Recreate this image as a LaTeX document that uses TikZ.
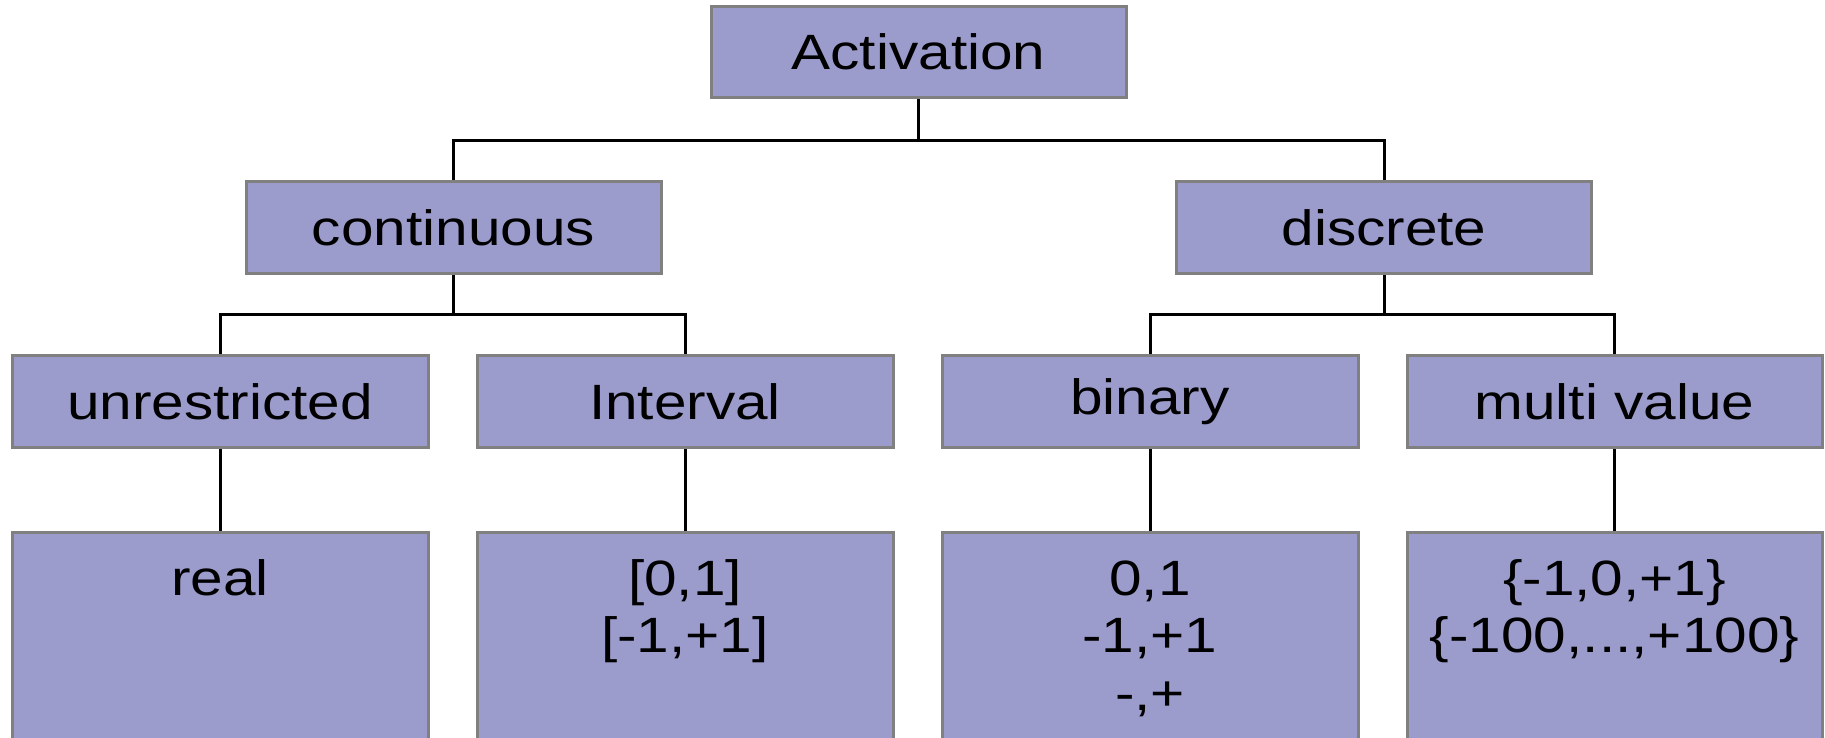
\documentclass[tikz,border=0pt]{standalone}
\usepackage{fontspec}
\setmainfont{Liberation Sans}[FakeStretch=1.18]
\usetikzlibrary{backgrounds}
\definecolor{boxfill}{RGB}{155,155,204}
\definecolor{boxline}{RGB}{128,128,128}
\newcommand{\leaflines}[1]{\begin{tabular}[t]{@{}c@{}}#1\end{tabular}}
\tikzset{
  box/.style={draw=boxline, fill=boxfill, line width=3pt, minimum width=415pt,
    minimum height=92pt, inner sep=0pt, text=black,
    font=\fontsize{49.6}{57.5}\selectfont},
  leafbox/.style={box, anchor=north, text height=35.5pt,
    text depth=170pt, inner ysep=27pt},
  conn/.style={draw=black, line width=3pt},
}
\begin{document}
\begin{tikzpicture}[x=1pt,y=-1pt]
\useasboundingbox (0,0) rectangle (1825,738);
\clip (0,0) rectangle (1825,738);
% boxes
\node[box, minimum height=91pt] (act) at (918.5,52) {Activation};
\node[box] (cont) at (453.5,227.5) {continuous};
\node[box] (disc) at (1384,227.5) {discrete};
\node[box, minimum width=416pt] (unr) at (220,401.5) {unrestricted};
\node[box, minimum width=416pt] (intv) at (685,401.5) {Interval};
\node[box, minimum width=416pt] (bin) at (1150,401.5) {binary};
\node[box, minimum width=415pt] (mul) at (1614.5,401.5) {multi value};
\node[leafbox, minimum width=416pt] (real) at (220,531) {\leaflines{real}};
\node[leafbox, minimum width=416pt] (ivals) at (685,531) {\leaflines{[0,1]\\{}[-1,+1]}};
\node[leafbox, minimum width=416pt] (bvals) at (1150,531) {\leaflines{0,1\\-1,+1\\-,+}};
\node[leafbox, minimum width=415pt] (mvals) at (1614.5,531) {\leaflines{\{-1,0,+1\}\\\{-100,...,+100\}}};
% junctions
\coordinate (j0) at (918.5,141);
\coordinate (j1) at (453.5,314);
\coordinate (j2) at (1384,314);
\begin{scope}[on background layer]
\fill[white] (0,0) rectangle (1825,738);
\draw[conn] (act.south) -- (j0);
\draw[conn] (cont.north) |- (j0) -| (disc.north);
\draw[conn] (cont.south) -- (j1);
\draw[conn] (unr.north) |- (j1) -| (intv.north);
\draw[conn] (disc.south) -- (j2);
\draw[conn] (bin.north) |- (j2) -| (mul.north);
\draw[conn] (unr.south) -- (real.north);
\draw[conn] (intv.south) -- (ivals.north);
\draw[conn] (bin.south) -- (bvals.north);
\draw[conn] (mul.south) -- (mvals.north);
\end{scope}
\end{tikzpicture}
\end{document}
